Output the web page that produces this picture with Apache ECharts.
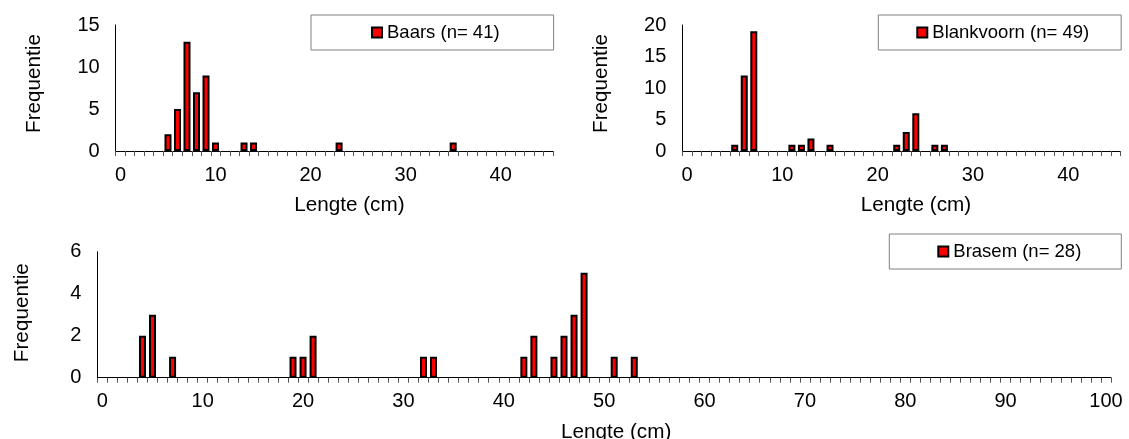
<!DOCTYPE html>
<html><head><meta charset="utf-8">
<script src="https://cdn.jsdelivr.net/npm/echarts@6/dist/echarts.min.js"></script>
<style>html,body{margin:0;padding:0;background:#fff}#c{width:1129px;height:439px}</style>
</head><body><div id="c"></div>
<script>
// ---- data ----
const baarsLengths = [5, 6, 7, 8, 9, 10, 13, 14, 23, 35];
const baarsCounts  = [2, 5, 13, 7, 9, 1, 1, 1, 1, 1];
const blankLengths = [5, 6, 7, 11, 12, 13, 15, 22, 23, 24, 26, 27];
const blankCounts  = [1, 12, 19, 1, 1, 2, 1, 1, 3, 6, 1, 1];
const brasemLengths = [4, 5, 7, 19, 20, 21, 32, 33, 42, 43, 45, 46, 47, 48, 51, 53];
const brasemCounts  = [2, 3, 1, 1, 1, 2, 1, 1, 1, 2, 1, 2, 3, 5, 1, 1];
const topMaxLength = 45;
const bottomMaxLength = 100;
const seriesNames = ['Baars (n= 41)', 'Blankvoorn (n= 49)', 'Brasem (n= 28)'];
const yMaxes = [15, 20, 6];
const yIntervals = [5, 5, 2];
const yAxisName = 'Frequentie';
const xAxisName = 'Lengte (cm)';

// ---- helpers ----
function categories(maxLen) { const a = []; for (let i = 0; i <= maxLen; i++) a.push(String(i)); return a; }
function toData(maxLen, lengths, counts) {
  const d = categories(maxLen).map(() => '-');
  lengths.forEach((l, i) => { d[l] = counts[i]; });
  return d;
}
const FONT = '"Liberation Sans", Arial, sans-serif';
const topCats = categories(topMaxLength);
const botCats = categories(bottomMaxLength);

const gridBase = { containLabel: false, outerBoundsMode: 'none' };
const grids = [
  Object.assign({ left: 115.7, right: 576, top: 25, bottom: 288 }, gridBase),
  Object.assign({ left: 682.3, right: 8.3, top: 25, bottom: 288 }, gridBase),
  Object.assign({ left: 97.3, right: 18, top: 251.7, bottom: 61.3 }, gridBase)
];

function xAx(i, cats, namePad, nameGap) {
  return {
    type: 'category', gridIndex: i, data: cats, boundaryGap: true,
    axisLine: { show: true, lineStyle: { color: '#000', width: 1 } },
    axisTick: { show: true, interval: 0, length: 5, lineStyle: { color: '#555', width: 1 } },
    axisLabel: { interval: 9, margin: 14, fontSize: 20, color: '#000', fontFamily: FONT },
    name: xAxisName, nameLocation: 'middle', nameGap: nameGap,
    nameTextStyle: { fontSize: 20.7, color: '#000', fontFamily: FONT, padding: namePad }
  };
}
function yAx(i, gap, namePad) {
  return {
    type: 'value', gridIndex: i, min: 0, max: yMaxes[i], interval: yIntervals[i],
    splitLine: { show: false },
    axisLine: { show: true, lineStyle: { color: '#000', width: 1 } },
    axisTick: { show: false },
    axisLabel: { margin: 16, fontSize: 20, color: '#000', fontFamily: FONT },
    name: yAxisName, nameLocation: 'middle', nameGap: gap,
    nameTextStyle: { fontSize: 20.7, color: '#000', fontFamily: FONT, padding: namePad }
  };
}
const barStyle = { color: '#ff0000', borderColor: '#000', borderWidth: 2 };
function bar(i, name, data, w) {
  return { type: 'bar', name: name, xAxisIndex: i, yAxisIndex: i, data: data,
    barWidth: w, itemStyle: barStyle, silent: true };
}
function leg(name, left, top, pad) {
  return {
    data: [name], left: left, top: top, padding: pad, selectedMode: false,
    borderColor: '#808080', borderWidth: 1, backgroundColor: '#fff',
    icon: 'rect', itemWidth: 10, itemHeight: 10, itemStyle: barStyle,
    textStyle: { fontSize: 18.5, color: '#000', fontFamily: FONT }
  };
}

const chart = echarts.init(document.getElementById('c'), null, { renderer: 'canvas' });
chart.setOption({
  animation: false,
  backgroundColor: '#fff',
  grid: grids,
  xAxis: [xAx(0, topCats, [0, 0, 0, 30], 44), xAx(1, topCats, [0, 0, 0, 29], 44), xAx(2, botCats, [0, 0, 0, 24], 44)],
  yAxis: [yAx(0, 71, [0, 0, 0, 9]), yAx(1, 71, [0, 0, 0, 9]), yAx(2, 65, [0, 0, 0, 4])],
  legend: [
    leg(seriesNames[0], 311, 15, [8, 54, 8, 60]),
    leg(seriesNames[1], 878.3, 15, [8, 32, 8, 38]),
    leg(seriesNames[2], 889.3, 234, [8, 40, 8, 48])
  ],
  series: [
    bar(0, seriesNames[0], toData(topMaxLength, baarsLengths, baarsCounts), 7),
    bar(1, seriesNames[1], toData(topMaxLength, blankLengths, blankCounts), 7),
    bar(2, seriesNames[2], toData(bottomMaxLength, brasemLengths, brasemCounts), 7)
  ]
});
</script></body></html>
